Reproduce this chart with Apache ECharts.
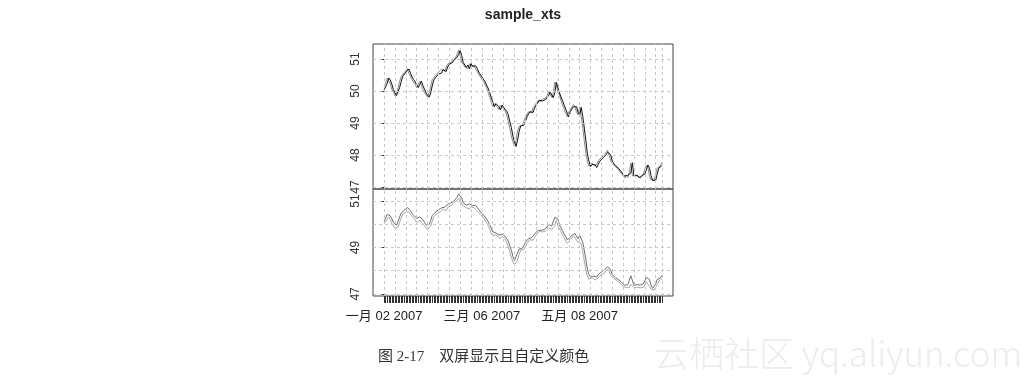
<!DOCTYPE html>
<html><head><meta charset="utf-8">
<script src="https://cdn.jsdelivr.net/npm/echarts@6/dist/echarts.min.js"></script>
<style>html,body{margin:0;padding:0;background:#fff}#c{width:1034px;height:381px}</style>
</head><body><div id="c"></div>
<script>
// sample_xts daily OHLC, 2007-01-02 .. 2007-06-30 (180 days)
const openP = [
50.04,50.13,50.24,50.41,50.34,50.21,50.04,49.99,49.86,49.91,
50.11,50.29,50.46,50.49,50.59,50.54,50.69,50.56,50.44,50.36,
50.29,50.23,50.11,50.21,50.31,50.17,50.06,49.94,49.89,49.81,
49.94,50.16,50.34,50.41,50.47,50.53,50.59,50.56,50.67,50.71,
50.61,50.76,50.84,50.83,50.89,50.96,50.97,51.06,51.14,51.27,
51.11,50.89,50.83,50.74,50.81,50.69,50.86,50.77,50.73,50.79,
50.71,50.59,50.56,50.44,50.41,50.29,50.26,50.09,49.96,49.81,
49.66,49.51,49.61,49.57,49.51,49.41,49.56,49.49,49.46,49.37,
49.26,49.04,48.86,48.59,48.41,48.27,48.46,48.74,48.91,48.94,
48.93,49.04,49.19,49.21,49.36,49.39,49.33,49.47,49.56,49.61,
49.71,49.71,49.69,49.74,49.73,49.77,49.86,49.97,49.91,49.79,
49.96,50.27,50.21,49.94,49.89,49.69,49.56,49.44,49.31,49.19,
49.36,49.41,49.51,49.57,49.51,49.34,49.26,49.49,49.21,48.84,
48.46,48.04,47.81,47.64,47.71,47.74,47.69,47.61,47.71,47.81,
47.86,47.91,47.96,48.01,48.09,48.14,48.01,47.81,47.76,47.67,
47.63,47.59,47.56,47.47,47.46,47.34,47.29,47.37,47.31,47.44,
47.76,47.34,47.31,47.37,47.33,47.29,47.36,47.31,47.41,47.54,
47.69,47.59,47.36,47.21,47.19,47.21,47.41,47.59,47.63,47.67];
const highP = [
50.14,50.27,50.43,50.43,50.36,50.23,50.07,50.01,49.95,50.12,
50.32,50.48,50.52,50.61,50.62,50.72,50.71,50.59,50.47,50.38,
50.31,50.26,50.25,50.32,50.33,50.20,50.08,49.97,49.91,49.98,
50.17,50.38,50.42,50.51,50.54,50.63,50.61,50.71,50.73,50.73,
50.78,50.87,50.87,50.92,50.98,51.00,51.08,51.17,51.31,51.29,
51.13,50.92,50.85,50.83,50.83,50.88,50.88,50.80,50.82,50.82,
50.73,50.63,50.58,50.47,50.43,50.32,50.28,50.12,49.98,49.84,
49.68,49.63,49.63,49.60,49.53,49.58,49.58,49.52,49.48,49.40,
49.28,49.07,48.88,48.62,48.43,48.48,48.77,48.93,48.97,48.97,
49.07,49.21,49.24,49.38,49.42,49.42,49.50,49.58,49.64,49.73,
49.74,49.74,49.77,49.77,49.80,49.88,50.00,50.00,49.93,49.98,
50.30,50.30,50.23,49.97,49.91,49.72,49.58,49.47,49.33,49.38,
49.44,49.53,49.60,49.60,49.53,49.37,49.52,49.52,49.23,48.87,
48.48,48.07,47.83,47.73,47.77,47.77,47.71,47.73,47.84,47.88,
47.94,47.98,48.04,48.11,48.17,48.17,48.03,47.84,47.78,47.70,
47.65,47.62,47.58,47.50,47.48,47.37,47.40,47.40,47.47,47.78,
47.78,47.37,47.40,47.40,47.35,47.38,47.38,47.43,47.57,47.71,
47.71,47.62,47.38,47.24,47.24,47.43,47.62,47.65,47.68,47.80];
const lowP = [
50.02,50.10,50.22,50.32,50.20,50.02,49.96,49.82,49.84,49.88,
50.09,50.26,50.44,50.46,50.53,50.51,50.53,50.42,50.33,50.27,
50.20,50.07,50.09,50.18,50.16,50.02,49.93,49.85,49.78,49.78,
49.92,50.13,50.32,50.38,50.45,50.50,50.53,50.53,50.65,50.59,
50.59,50.73,50.80,50.80,50.87,50.93,50.95,51.03,51.12,51.07,
50.88,50.79,50.73,50.71,50.68,50.66,50.76,50.69,50.71,50.67,
50.58,50.52,50.43,50.37,50.28,50.22,50.08,49.92,49.80,49.62,
49.50,49.48,49.56,49.47,49.40,49.38,49.48,49.42,49.36,49.22,
49.03,48.82,48.58,48.37,48.26,48.24,48.44,48.71,48.89,48.89,
48.91,49.01,49.17,49.18,49.34,49.29,49.31,49.44,49.54,49.58,
49.69,49.65,49.67,49.69,49.71,49.74,49.84,49.87,49.78,49.76,
49.94,50.17,49.93,49.85,49.68,49.52,49.43,49.27,49.18,49.16,
49.34,49.38,49.49,49.47,49.33,49.22,49.24,49.17,48.83,48.42,
48.03,47.77,47.63,47.61,47.69,47.65,47.60,47.58,47.69,47.78,
47.84,47.88,47.94,47.98,48.07,47.97,47.80,47.72,47.66,47.59,
47.58,47.52,47.46,47.42,47.33,47.25,47.27,47.27,47.29,47.41,
47.33,47.27,47.29,47.29,47.28,47.26,47.30,47.28,47.39,47.51,
47.58,47.32,47.20,47.15,47.17,47.18,47.39,47.56,47.61,47.64];
const closeP = [
50.12,50.25,50.40,50.35,50.22,50.05,49.98,49.85,49.92,50.10,
50.30,50.45,50.50,50.58,50.55,50.70,50.55,50.45,50.35,50.30,
50.22,50.10,50.22,50.30,50.18,50.05,49.95,49.88,49.80,49.95,
50.15,50.35,50.40,50.48,50.52,50.60,50.55,50.68,50.70,50.62,
50.75,50.85,50.82,50.90,50.95,50.98,51.05,51.15,51.28,51.10,
50.90,50.82,50.75,50.80,50.70,50.85,50.78,50.72,50.80,50.70,
50.60,50.55,50.45,50.40,50.30,50.25,50.10,49.95,49.82,49.65,
49.52,49.60,49.58,49.50,49.42,49.55,49.50,49.45,49.38,49.25,
49.05,48.85,48.60,48.40,48.28,48.45,48.75,48.90,48.95,48.92,
49.05,49.18,49.22,49.35,49.40,49.32,49.48,49.55,49.62,49.70,
49.72,49.68,49.75,49.72,49.78,49.85,49.98,49.90,49.80,49.95,
50.28,50.20,49.95,49.88,49.70,49.55,49.45,49.30,49.20,49.35,
49.42,49.50,49.58,49.50,49.35,49.25,49.50,49.20,48.85,48.45,
48.05,47.80,47.65,47.70,47.75,47.68,47.62,47.70,47.82,47.85,
47.92,47.95,48.02,48.08,48.15,48.00,47.82,47.75,47.68,47.62,
47.60,47.55,47.48,47.45,47.35,47.28,47.38,47.30,47.45,47.75,
47.35,47.30,47.38,47.32,47.30,47.35,47.32,47.40,47.55,47.68,
47.60,47.35,47.22,47.18,47.22,47.40,47.60,47.62,47.66,47.77];

const xTickDays = [0, 63, 126];
const xTickLabels = ['一月 02 2007', '三月 06 2007', '五月 08 2007'];
const weekGridDays = [0,7,14,21,28,35,42,49,56,63,70,77,84,91,98,105,112,119,126,133,140,147,154,161,168,175,179];
const topYTicks = [47, 48, 49, 50, 51];
const bottomYLabels = [47, 49, 51];
const bottomYGrid = [47, 48, 49, 50, 51];

const allDays = openP.map((_, i) => i);
const pts = arr => arr.map((v, i) => [i, v]);

const gridLine = { type: [3, 3], color: '#c8c8c8', width: 1 };
function gridSeries(xi, yVals) {
  return {
    type: 'line', xAxisIndex: xi, yAxisIndex: xi, data: [], silent: true, z: 1,
    markLine: {
      silent: true, symbol: ['none', 'none'], label: { show: false }, animation: false,
      lineStyle: gridLine, emphasis: { disabled: true },
      data: weekGridDays.map(d => ({ xAxis: d })).concat(yVals.map(v => ({ yAxis: v })))
    }
  };
}
const lineS = (xi, arr, color) => ({
  type: 'line', xAxisIndex: xi, yAxisIndex: xi, data: pts(arr), showSymbol: false, symbol: 'none',
  lineStyle: { color: color, width: 1 }, itemStyle: { color: color }, z: 3, silent: true, animation: false
});

const xBase = { type: 'value', min: -7.16, max: 186.16, axisLine: { show: false }, splitLine: { show: false } };
const yLabel = { rotate: 90, margin: 11, fontSize: 12, color: '#333', fontFamily: 'Liberation Sans, Arial, sans-serif' };

const chart = echarts.init(document.getElementById('c'));
chart.setOption({
  animation: false,
  backgroundColor: '#fff',
  grid: [
    { left: 373, top: 44, width: 300, height: 145, show: true, borderColor: '#444', borderWidth: 1, containLabel: false, backgroundColor: 'transparent' },
    { left: 373, top: 189, width: 300, height: 107, show: true, borderColor: '#444', borderWidth: 1, containLabel: false, backgroundColor: 'transparent' }
  ],
  xAxis: [
    Object.assign({}, xBase, { gridIndex: 0, axisTick: { show: false }, axisLabel: { show: false } }),
    Object.assign({}, xBase, {
      gridIndex: 1,
      axisTick: { show: true, customValues: allDays, length: 7, lineStyle: { color: '#333', width: 1 } },
      axisLabel: { show: true, customValues: xTickDays, margin: 14, fontSize: 13, color: '#222',
        fontFamily: 'Liberation Sans, Noto Sans CJK SC, sans-serif',
        formatter: v => { const k = xTickDays.indexOf(Math.round(v)); return k >= 0 ? xTickLabels[k] : ''; } }
    })
  ],
  yAxis: [
    { gridIndex: 0, type: 'value', min: 46.94, max: 51.47, splitNumber: 5, axisLine: { show: false }, splitLine: { show: false },
      axisTick: { show: true, customValues: topYTicks, length: 5, lineStyle: { color: '#333' } },
      axisLabel: Object.assign({ customValues: topYTicks, formatter: v => String(Math.round(v)) }, yLabel) },
    { gridIndex: 1, type: 'value', min: 46.91, max: 51.52, splitNumber: 5, axisLine: { show: false }, splitLine: { show: false },
      axisTick: { show: true, customValues: bottomYLabels, length: 5, lineStyle: { color: '#333' } },
      axisLabel: Object.assign({ customValues: bottomYLabels, formatter: v => String(Math.round(v)) }, yLabel) }
  ],
  series: [
    gridSeries(0, topYTicks),
    gridSeries(1, bottomYGrid),
    lineS(0, closeP, '#8a8a8a'),
    lineS(0, openP, '#111111'),
    lineS(1, lowP, '#a8a8a8'),
    lineS(1, highP, '#6e6e6e')
  ],
  graphic: [
    { type: 'text', x: 523, y: 15, style: { text: 'sample_xts', textAlign: 'center', textVerticalAlign: 'middle',
      font: 'bold 14px "Liberation Sans", Arial, sans-serif', fill: '#222' } },
    { type: 'text', x: 378, y: 357, style: { text: '图 2-17    双屏显示且自定义颜色', textAlign: 'left', textVerticalAlign: 'middle',
      font: '15px "Liberation Serif", "Noto Sans CJK SC", serif', fill: '#333' } },
    { type: 'text', x: 654, y: 354, style: { text: '云栖社区 yq.aliyun.com', textAlign: 'left', textVerticalAlign: 'middle',
      font: '300 35px "Noto Sans CJK SC", "Open Sans", sans-serif', fill: '#ececec' } }
  ]
});
</script>
</body></html>
